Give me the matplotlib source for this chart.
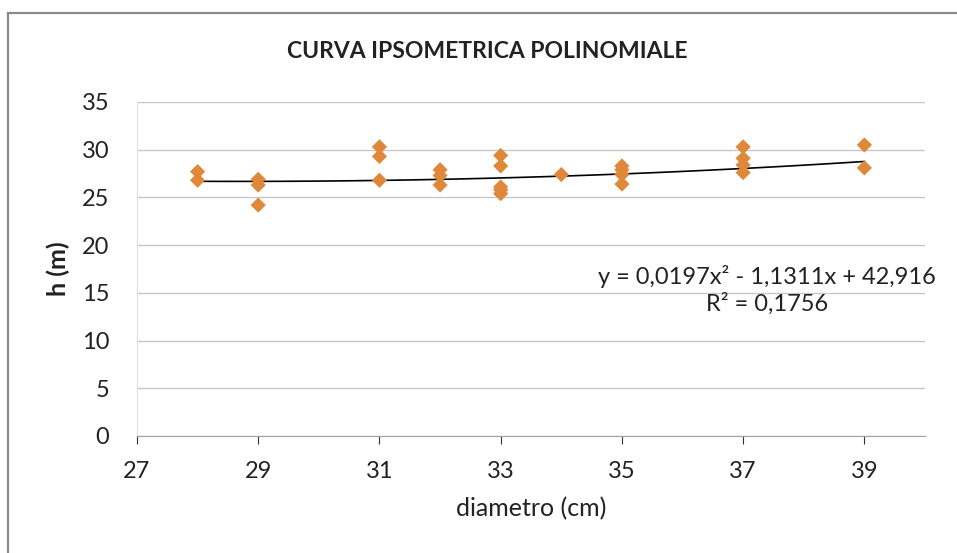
import matplotlib

matplotlib.use("Agg")

import matplotlib.pyplot as plt
import numpy as np
from matplotlib.patches import Rectangle

# diametro (cm) and altezza (m)
diametro = [28, 28, 29, 29, 29, 31, 31, 31, 32, 32, 32,
            33, 33, 33, 33, 33, 34, 35, 35, 35, 35,
            37, 37, 37, 37, 39, 39]
altezza = [27.7, 26.8, 26.9, 26.3, 24.2, 30.3, 29.3, 26.8, 27.9, 27.3, 26.3,
           29.4, 28.3, 26.1, 25.8, 25.4, 27.4, 28.3, 27.9, 27.4, 26.4,
           30.3, 29.1, 28.4, 27.6, 30.5, 28.1]

# Excel polynomial trendline coefficients
coeff = [0.0197, -1.1311, 42.916]
r2 = 0.1756

x_ticks = [27, 29, 31, 33, 35, 37, 39]
y_ticks = [0, 5, 10, 15, 20, 25, 30, 35]

plt.rcParams["font.family"] = ["Lato", "DejaVu Sans"]

fig = plt.figure(figsize=(9.57, 5.53), dpi=100)
fig.patches.append(Rectangle((8 / 957, -0.05), 1.1, (553 - 13) / 553 + 0.05,
                             transform=fig.transFigure, fill=False,
                             edgecolor="#8a8a8a", linewidth=1.6))

ax = fig.add_axes([137 / 957, 117 / 553, 788 / 957, 334 / 553])

xs = np.linspace(min(diametro), max(diametro), 100)
ax.plot(xs, np.polyval(coeff, xs), color="black", linewidth=1.2, zorder=3)
ax.scatter(diametro, altezza, marker="D", s=60, color="#E0883A",
           edgecolors="none", zorder=4)

ax.set_xlim(27, 40)
ax.set_ylim(0, 35)
ax.set_xticks(x_ticks)
ax.set_yticks(y_ticks)
ax.tick_params(axis="both", labelsize=17, colors="#333333", labelcolor="#222222")
ax.tick_params(axis="x", length=6, direction="out", pad=12)
ax.tick_params(axis="y", length=0, pad=20)
ax.grid(True, axis="y", color="#c8c8c8", linewidth=1)
for side in ["top", "right"]:
    ax.spines[side].set_visible(False)
ax.spines["left"].set_color("#e0e0e0")
ax.spines["bottom"].set_color("#a0a0b0")

ax.set_xlabel("diametro (cm)", fontsize=18, color="#222222", labelpad=11)
ax.set_ylabel("h (m)", fontsize=18, fontweight="bold", color="#222222", labelpad=8)
fig.text(487 / 957, 1 - 52 / 553, "CURVA IPSOMETRICA POLINOMIALE", ha="center",
         va="center", fontsize=16.5, fontweight="bold", color="#222222")

eq = "y = 0,0197x² - 1,1311x + 42,916\nR² = 0,1756"
ax.text(767 / 957, 1 - 290 / 553, eq, transform=fig.transFigure, ha="center",
        va="center", fontsize=17, color="#222222", linespacing=1.25)

fig.savefig("out.png")
